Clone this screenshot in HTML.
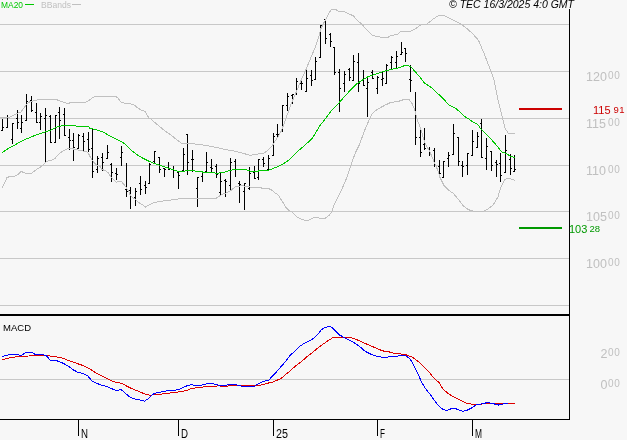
<!DOCTYPE html>
<html><head><meta charset="utf-8"><title>Chart</title>
<style>
html,body{margin:0;padding:0;background:#f7f7f7;}
body{width:627px;height:440px;overflow:hidden;}
svg{display:block;}
text{font-family:"Liberation Sans",sans-serif;}
svg{will-change:transform;}
</style></head><body>
<svg width="627" height="440" viewBox="0 0 627 440">
<rect width="627" height="440" fill="#f7f7f7"/>

<rect x="0" y="24" width="569" height="1" fill="#c8c8c8"/>
<rect x="0" y="71" width="569" height="1" fill="#c8c8c8"/>
<rect x="0" y="118" width="569" height="1" fill="#c8c8c8"/>
<rect x="0" y="165" width="569" height="1" fill="#c8c8c8"/>
<rect x="0" y="211" width="569" height="1" fill="#c8c8c8"/>
<rect x="0" y="258" width="569" height="1" fill="#c8c8c8"/>
<rect x="0" y="305" width="569" height="1" fill="#c8c8c8"/>
<rect x="0" y="379" width="569" height="1" fill="#c8c8c8"/>
<g fill="#000"><rect x="2" y="119" width="1" height="12"/><rect x="1" y="130" width="1" height="1"/><rect x="3" y="127" width="1" height="1"/><rect x="7" y="115" width="1" height="13"/><rect x="6" y="127" width="1" height="1"/><rect x="8" y="117" width="1" height="1"/><rect x="12" y="123" width="1" height="21"/><rect x="11" y="139" width="1" height="1"/><rect x="13" y="123" width="1" height="1"/><rect x="17" y="110" width="1" height="19"/><rect x="16" y="118" width="1" height="1"/><rect x="18" y="122" width="1" height="1"/><rect x="21" y="115" width="1" height="18"/><rect x="20" y="128" width="1" height="1"/><rect x="22" y="122" width="1" height="1"/><rect x="26" y="94" width="1" height="27"/><rect x="25" y="120" width="1" height="1"/><rect x="27" y="101" width="1" height="1"/><rect x="31" y="96" width="1" height="16"/><rect x="30" y="100" width="1" height="1"/><rect x="32" y="110" width="1" height="1"/><rect x="36" y="103" width="1" height="20"/><rect x="35" y="112" width="1" height="1"/><rect x="37" y="122" width="1" height="1"/><rect x="40" y="113" width="1" height="17"/><rect x="39" y="122" width="1" height="1"/><rect x="41" y="116" width="1" height="1"/><rect x="45" y="108" width="1" height="55"/><rect x="44" y="118" width="1" height="1"/><rect x="46" y="115" width="1" height="1"/><rect x="50" y="115" width="1" height="28"/><rect x="49" y="116" width="1" height="1"/><rect x="51" y="142" width="1" height="1"/><rect x="55" y="115" width="1" height="28"/><rect x="54" y="142" width="1" height="1"/><rect x="56" y="115" width="1" height="1"/><rect x="59" y="107" width="1" height="32"/><rect x="58" y="112" width="1" height="1"/><rect x="60" y="120" width="1" height="1"/><rect x="64" y="108" width="1" height="28"/><rect x="63" y="114" width="1" height="1"/><rect x="65" y="135" width="1" height="1"/><rect x="69" y="129" width="1" height="21"/><rect x="68" y="137" width="1" height="1"/><rect x="70" y="140" width="1" height="1"/><rect x="73" y="133" width="1" height="28"/><rect x="72" y="140" width="1" height="1"/><rect x="74" y="147" width="1" height="1"/><rect x="78" y="134" width="1" height="15"/><rect x="77" y="148" width="1" height="1"/><rect x="79" y="135" width="1" height="1"/><rect x="83" y="133" width="1" height="18"/><rect x="82" y="136" width="1" height="1"/><rect x="84" y="141" width="1" height="1"/><rect x="88" y="132" width="1" height="20"/><rect x="87" y="139" width="1" height="1"/><rect x="89" y="149" width="1" height="1"/><rect x="92" y="129" width="1" height="49"/><rect x="91" y="148" width="1" height="1"/><rect x="93" y="171" width="1" height="1"/><rect x="97" y="156" width="1" height="17"/><rect x="96" y="169" width="1" height="1"/><rect x="98" y="158" width="1" height="1"/><rect x="102" y="153" width="1" height="18"/><rect x="101" y="157" width="1" height="1"/><rect x="103" y="162" width="1" height="1"/><rect x="107" y="145" width="1" height="14"/><rect x="106" y="158" width="1" height="1"/><rect x="108" y="152" width="1" height="1"/><rect x="111" y="163" width="1" height="19"/><rect x="110" y="164" width="1" height="1"/><rect x="112" y="172" width="1" height="1"/><rect x="116" y="168" width="1" height="12"/><rect x="115" y="173" width="1" height="1"/><rect x="117" y="174" width="1" height="1"/><rect x="121" y="146" width="1" height="20"/><rect x="120" y="157" width="1" height="1"/><rect x="122" y="152" width="1" height="1"/><rect x="126" y="163" width="1" height="34"/><rect x="125" y="189" width="1" height="1"/><rect x="127" y="191" width="1" height="1"/><rect x="130" y="187" width="1" height="22"/><rect x="129" y="190" width="1" height="1"/><rect x="131" y="196" width="1" height="1"/><rect x="135" y="188" width="1" height="18"/><rect x="134" y="197" width="1" height="1"/><rect x="136" y="191" width="1" height="1"/><rect x="140" y="176" width="1" height="19"/><rect x="139" y="183" width="1" height="1"/><rect x="141" y="189" width="1" height="1"/><rect x="145" y="181" width="1" height="13"/><rect x="144" y="185" width="1" height="1"/><rect x="146" y="187" width="1" height="1"/><rect x="149" y="163" width="1" height="21"/><rect x="148" y="183" width="1" height="1"/><rect x="150" y="164" width="1" height="1"/><rect x="154" y="151" width="1" height="12"/><rect x="153" y="161" width="1" height="1"/><rect x="155" y="151" width="1" height="1"/><rect x="159" y="157" width="1" height="16"/><rect x="158" y="157" width="1" height="1"/><rect x="160" y="169" width="1" height="1"/><rect x="164" y="168" width="1" height="9"/><rect x="163" y="168" width="1" height="1"/><rect x="165" y="169" width="1" height="1"/><rect x="168" y="162" width="1" height="8"/><rect x="167" y="167" width="1" height="1"/><rect x="169" y="169" width="1" height="1"/><rect x="173" y="166" width="1" height="12"/><rect x="172" y="169" width="1" height="1"/><rect x="174" y="170" width="1" height="1"/><rect x="178" y="171" width="1" height="18"/><rect x="177" y="172" width="1" height="1"/><rect x="179" y="175" width="1" height="1"/><rect x="183" y="148" width="1" height="24"/><rect x="182" y="170" width="1" height="1"/><rect x="184" y="154" width="1" height="1"/><rect x="187" y="134" width="1" height="41"/><rect x="186" y="134" width="1" height="1"/><rect x="188" y="162" width="1" height="1"/><rect x="192" y="150" width="1" height="22"/><rect x="191" y="159" width="1" height="1"/><rect x="193" y="159" width="1" height="1"/><rect x="197" y="177" width="1" height="30"/><rect x="196" y="188" width="1" height="1"/><rect x="198" y="177" width="1" height="1"/><rect x="202" y="171" width="1" height="11"/><rect x="201" y="176" width="1" height="1"/><rect x="203" y="172" width="1" height="1"/><rect x="206" y="152" width="1" height="20"/><rect x="205" y="171" width="1" height="1"/><rect x="207" y="162" width="1" height="1"/><rect x="211" y="159" width="1" height="13"/><rect x="210" y="167" width="1" height="1"/><rect x="212" y="168" width="1" height="1"/><rect x="216" y="164" width="1" height="14"/><rect x="215" y="166" width="1" height="1"/><rect x="217" y="174" width="1" height="1"/><rect x="220" y="172" width="1" height="24"/><rect x="219" y="192" width="1" height="1"/><rect x="221" y="181" width="1" height="1"/><rect x="225" y="179" width="1" height="18"/><rect x="224" y="180" width="1" height="1"/><rect x="226" y="181" width="1" height="1"/><rect x="230" y="158" width="1" height="32"/><rect x="229" y="185" width="1" height="1"/><rect x="231" y="162" width="1" height="1"/><rect x="235" y="159" width="1" height="18"/><rect x="234" y="161" width="1" height="1"/><rect x="236" y="169" width="1" height="1"/><rect x="239" y="181" width="1" height="22"/><rect x="238" y="183" width="1" height="1"/><rect x="240" y="184" width="1" height="1"/><rect x="244" y="183" width="1" height="27"/><rect x="243" y="191" width="1" height="1"/><rect x="245" y="183" width="1" height="1"/><rect x="249" y="167" width="1" height="23"/><rect x="248" y="188" width="1" height="1"/><rect x="250" y="173" width="1" height="1"/><rect x="254" y="166" width="1" height="13"/><rect x="253" y="172" width="1" height="1"/><rect x="255" y="178" width="1" height="1"/><rect x="258" y="159" width="1" height="21"/><rect x="257" y="177" width="1" height="1"/><rect x="259" y="159" width="1" height="1"/><rect x="263" y="157" width="1" height="10"/><rect x="262" y="159" width="1" height="1"/><rect x="264" y="163" width="1" height="1"/><rect x="268" y="155" width="1" height="15"/><rect x="267" y="169" width="1" height="1"/><rect x="269" y="158" width="1" height="1"/><rect x="273" y="133" width="1" height="23"/><rect x="272" y="155" width="1" height="1"/><rect x="274" y="136" width="1" height="1"/><rect x="277" y="124" width="1" height="14"/><rect x="276" y="134" width="1" height="1"/><rect x="278" y="134" width="1" height="1"/><rect x="282" y="105" width="1" height="27"/><rect x="281" y="131" width="1" height="1"/><rect x="283" y="105" width="1" height="1"/><rect x="287" y="93" width="1" height="18"/><rect x="286" y="105" width="1" height="1"/><rect x="288" y="96" width="1" height="1"/><rect x="292" y="94" width="1" height="10"/><rect x="291" y="95" width="1" height="1"/><rect x="293" y="94" width="1" height="1"/><rect x="296" y="78" width="1" height="17"/><rect x="295" y="94" width="1" height="1"/><rect x="297" y="81" width="1" height="1"/><rect x="301" y="79" width="1" height="11"/><rect x="300" y="83" width="1" height="1"/><rect x="302" y="83" width="1" height="1"/><rect x="306" y="69" width="1" height="23"/><rect x="305" y="91" width="1" height="1"/><rect x="307" y="78" width="1" height="1"/><rect x="311" y="70" width="1" height="16"/><rect x="310" y="75" width="1" height="1"/><rect x="312" y="80" width="1" height="1"/><rect x="315" y="57" width="1" height="23"/><rect x="314" y="79" width="1" height="1"/><rect x="316" y="61" width="1" height="1"/><rect x="320" y="25" width="1" height="33"/><rect x="319" y="57" width="1" height="1"/><rect x="321" y="25" width="1" height="1"/><rect x="325" y="19" width="1" height="25"/><rect x="324" y="19" width="1" height="1"/><rect x="326" y="38" width="1" height="1"/><rect x="330" y="33" width="1" height="14"/><rect x="329" y="34" width="1" height="1"/><rect x="331" y="41" width="1" height="1"/><rect x="334" y="47" width="1" height="28"/><rect x="333" y="47" width="1" height="1"/><rect x="335" y="72" width="1" height="1"/><rect x="339" y="69" width="1" height="43"/><rect x="338" y="72" width="1" height="1"/><rect x="340" y="88" width="1" height="1"/><rect x="344" y="71" width="1" height="21"/><rect x="343" y="83" width="1" height="1"/><rect x="345" y="74" width="1" height="1"/><rect x="349" y="68" width="1" height="13"/><rect x="348" y="69" width="1" height="1"/><rect x="350" y="77" width="1" height="1"/><rect x="353" y="55" width="1" height="26"/><rect x="352" y="80" width="1" height="1"/><rect x="354" y="61" width="1" height="1"/><rect x="358" y="53" width="1" height="39"/><rect x="357" y="62" width="1" height="1"/><rect x="359" y="83" width="1" height="1"/><rect x="363" y="70" width="1" height="16"/><rect x="362" y="80" width="1" height="1"/><rect x="364" y="85" width="1" height="1"/><rect x="367" y="76" width="1" height="41"/><rect x="366" y="88" width="1" height="1"/><rect x="368" y="82" width="1" height="1"/><rect x="372" y="70" width="1" height="9"/><rect x="371" y="72" width="1" height="1"/><rect x="373" y="78" width="1" height="1"/><rect x="377" y="76" width="1" height="18"/><rect x="376" y="88" width="1" height="1"/><rect x="378" y="77" width="1" height="1"/><rect x="382" y="71" width="1" height="15"/><rect x="381" y="79" width="1" height="1"/><rect x="383" y="78" width="1" height="1"/><rect x="386" y="64" width="1" height="20"/><rect x="385" y="83" width="1" height="1"/><rect x="387" y="65" width="1" height="1"/><rect x="391" y="56" width="1" height="14"/><rect x="390" y="62" width="1" height="1"/><rect x="392" y="57" width="1" height="1"/><rect x="396" y="51" width="1" height="18"/><rect x="395" y="62" width="1" height="1"/><rect x="397" y="56" width="1" height="1"/><rect x="401" y="42" width="1" height="13"/><rect x="400" y="54" width="1" height="1"/><rect x="402" y="52" width="1" height="1"/><rect x="405" y="48" width="1" height="14"/><rect x="404" y="48" width="1" height="1"/><rect x="406" y="53" width="1" height="1"/><rect x="410" y="65" width="1" height="27"/><rect x="409" y="79" width="1" height="1"/><rect x="411" y="80" width="1" height="1"/><rect x="415" y="92" width="1" height="53"/><rect x="414" y="108" width="1" height="1"/><rect x="416" y="137" width="1" height="1"/><rect x="420" y="127" width="1" height="30"/><rect x="419" y="137" width="1" height="1"/><rect x="421" y="152" width="1" height="1"/><rect x="424" y="128" width="1" height="22"/><rect x="423" y="144" width="1" height="1"/><rect x="425" y="148" width="1" height="1"/><rect x="429" y="147" width="1" height="9"/><rect x="428" y="149" width="1" height="1"/><rect x="430" y="152" width="1" height="1"/><rect x="434" y="148" width="1" height="19"/><rect x="433" y="150" width="1" height="1"/><rect x="435" y="164" width="1" height="1"/><rect x="439" y="160" width="1" height="14"/><rect x="438" y="166" width="1" height="1"/><rect x="440" y="173" width="1" height="1"/><rect x="443" y="161" width="1" height="17"/><rect x="442" y="177" width="1" height="1"/><rect x="444" y="161" width="1" height="1"/><rect x="448" y="152" width="1" height="15"/><rect x="447" y="158" width="1" height="1"/><rect x="449" y="155" width="1" height="1"/><rect x="453" y="124" width="1" height="31"/><rect x="452" y="154" width="1" height="1"/><rect x="454" y="133" width="1" height="1"/><rect x="458" y="137" width="1" height="29"/><rect x="457" y="137" width="1" height="1"/><rect x="459" y="161" width="1" height="1"/><rect x="462" y="161" width="1" height="16"/><rect x="461" y="165" width="1" height="1"/><rect x="463" y="166" width="1" height="1"/><rect x="467" y="153" width="1" height="22"/><rect x="466" y="165" width="1" height="1"/><rect x="468" y="153" width="1" height="1"/><rect x="472" y="130" width="1" height="26"/><rect x="471" y="155" width="1" height="1"/><rect x="473" y="141" width="1" height="1"/><rect x="477" y="132" width="1" height="16"/><rect x="476" y="147" width="1" height="1"/><rect x="478" y="136" width="1" height="1"/><rect x="481" y="119" width="1" height="39"/><rect x="480" y="123" width="1" height="1"/><rect x="482" y="157" width="1" height="1"/><rect x="486" y="138" width="1" height="32"/><rect x="485" y="158" width="1" height="1"/><rect x="487" y="146" width="1" height="1"/><rect x="491" y="151" width="1" height="20"/><rect x="490" y="151" width="1" height="1"/><rect x="492" y="165" width="1" height="1"/><rect x="496" y="160" width="1" height="17"/><rect x="495" y="162" width="1" height="1"/><rect x="497" y="164" width="1" height="1"/><rect x="500" y="153" width="1" height="29"/><rect x="499" y="163" width="1" height="1"/><rect x="501" y="175" width="1" height="1"/><rect x="505" y="135" width="1" height="38"/><rect x="504" y="172" width="1" height="1"/><rect x="506" y="150" width="1" height="1"/><rect x="510" y="154" width="1" height="21"/><rect x="509" y="159" width="1" height="1"/><rect x="511" y="168" width="1" height="1"/><rect x="514" y="155" width="1" height="17"/><rect x="513" y="171" width="1" height="1"/><rect x="515" y="169" width="1" height="1"/></g>
<g fill="none" stroke="#c0c0c0" stroke-width="1" shape-rendering="crispEdges"><polyline points="0.00,118.00 5.00,117.50 9.00,117.50 13.00,115.50 18.00,113.00 21.00,112.00 24.00,108.00 27.00,104.00 30.00,101.50 33.00,101.00 36.00,100.50 40.00,99.00 45.00,99.00 50.00,100.00 54.00,99.00 56.00,99.50 59.00,100.50 64.00,102.50 68.00,103.50 71.00,102.50 85.00,102.50 89.00,100.50 93.00,97.50 95.00,96.50 116.00,96.50 118.00,98.00 121.00,102.00 124.00,103.00 130.00,103.50 134.00,105.00 138.00,108.00 141.00,110.00 145.00,111.50 146.00,113.00 148.00,116.50 149.00,118.50 150.00,118.40 153.80,121.70 159.60,126.50 165.30,131.30 171.00,135.00 176.80,139.90 181.60,143.30 186.40,143.70 192.10,143.30 197.80,144.70 205.50,145.20 211.20,146.60 218.90,147.90 226.60,149.80 234.20,151.00 241.90,152.90 249.50,155.20 255.30,154.80 261.00,153.30 264.00,153.20 268.50,149.80 272.50,145.20 275.40,140.70 278.80,135.50 281.60,130.40 283.90,124.20 286.20,117.40 288.40,111.70 290.90,104.20 293.20,99.20 295.50,93.70 297.30,89.60 299.50,84.20 301.80,78.70 306.20,69.00 310.70,58.00 315.30,47.30 318.90,36.40 320.70,29.00 324.40,21.80 327.00,17.00 329.00,13.00 331.00,10.00 334.00,9.00 336.00,9.50 338.00,11.00 340.00,11.00 344.00,11.00 346.00,12.50 350.00,14.50 353.00,15.50 357.00,20.00 362.00,24.50 367.00,30.00 372.00,35.00 375.00,36.00 380.00,37.00 388.00,37.50 390.00,36.00 394.00,35.00 398.00,34.00 400.00,31.80 409.60,31.80 415.30,28.90 420.10,25.10 426.80,24.10 431.60,20.30 437.30,16.10 441.10,15.00 445.00,16.10 451.70,19.40 459.30,23.20 465.10,27.00 472.70,33.70 478.50,40.40 484.20,53.80 489.00,66.20 491.90,73.90 494.00,80.00 497.50,97.50 500.50,110.00 503.00,120.00 505.00,128.00 508.00,133.00 515.00,133.50"/><polyline points="2.00,188.00 5.00,182.00 7.00,177.50 10.00,176.50 15.00,176.00 18.00,174.50 21.00,171.50 24.00,172.50 26.00,173.50 31.00,173.50 34.00,171.50 38.00,168.50 42.00,166.00 44.00,164.00 46.00,162.00 48.00,161.00 52.00,160.00 55.00,158.50 58.00,155.00 60.00,153.00 65.00,150.00 69.00,148.00 78.00,150.00 84.00,151.30 87.30,152.10 88.90,154.20 90.50,157.50 92.20,160.30 94.60,163.20 97.10,165.20 100.40,166.90 102.00,169.50 105.00,170.50 108.00,172.50 110.00,175.50 112.00,178.00 114.50,180.60 116.50,182.20 119.00,181.60 121.60,181.60 122.80,183.10 124.70,185.40 126.60,188.20 128.60,191.10 130.50,195.60 133.10,198.10 135.00,199.00 137.60,201.60 140.70,203.80 143.30,205.40 145.50,207.00 147.70,205.70 150.30,204.50 153.80,202.60 162.80,201.00 173.00,199.80 181.90,198.40 197.20,198.80 207.40,198.50 216.30,198.10 221.40,194.90 230.00,191.10 235.80,186.40 242.60,185.70 249.50,187.00 259.70,187.40 262.00,188.20 268.50,188.20 270.20,189.40 272.60,190.60 275.10,193.10 277.10,193.90 279.20,196.40 280.80,199.20 283.30,202.90 286.00,207.50 288.90,210.60 292.30,212.10 294.60,214.60 297.50,217.20 299.80,218.40 302.10,219.40 304.90,220.40 308.40,220.40 310.10,219.50 312.40,218.50 314.70,217.20 317.30,217.20 319.30,218.40 322.00,218.40 325.30,218.30 327.40,216.70 329.80,214.60 331.90,211.40 333.10,207.70 334.70,203.60 336.80,199.50 338.80,195.40 340.90,190.90 343.30,186.00 347.30,176.40 350.20,167.60 352.40,160.40 356.00,151.60 359.60,144.40 361.40,139.20 364.80,130.10 368.20,122.10 370.50,117.00 372.70,113.00 376.10,110.20 380.70,107.40 385.20,105.10 390.00,102.80 395.00,101.80 399.50,101.00 405.00,99.20 409.50,100.00 412.50,104.30 414.80,110.30 416.80,118.50 420.00,127.00 425.00,143.00 430.00,152.00 435.00,164.00 437.50,169.50 440.00,177.50 444.00,185.50 448.70,190.30 453.50,193.50 458.00,199.00 463.00,205.50 468.00,209.50 472.60,211.00 479.00,212.00 484.00,211.00 488.60,208.60 493.40,204.70 498.00,196.70 501.00,187.00 504.50,180.00 507.00,178.30 511.00,179.00 515.00,180.40"/></g>
<polyline fill="none" stroke="#00c800" stroke-width="1" shape-rendering="crispEdges" points="2.00,152.50 6.00,150.00 10.00,147.50 15.00,145.00 20.00,142.00 24.00,140.00 30.00,137.50 36.00,135.00 40.00,133.50 45.00,132.00 50.00,130.50 55.00,128.20 58.50,126.40 62.00,125.80 67.00,125.50 75.50,125.50 76.50,126.50 88.50,126.50 90.00,128.40 94.50,129.40 98.50,130.40 101.00,131.50 104.00,132.40 110.00,136.20 115.60,138.90 121.20,141.50 124.50,143.70 127.90,147.10 132.30,151.00 137.90,155.40 143.50,158.50 149.00,161.20 154.60,163.50 160.20,165.50 165.80,167.20 171.40,169.20 177.00,171.10 180.00,171.60 185.00,171.00 190.00,170.50 195.00,171.00 200.00,171.50 205.00,172.50 210.00,172.00 215.00,173.00 218.00,173.50 220.00,172.50 225.00,172.00 230.00,170.50 235.00,169.00 243.00,169.00 245.00,169.50 250.00,171.00 255.00,171.50 260.00,170.80 269.30,170.00 273.80,168.20 278.40,166.40 282.00,164.50 286.50,161.80 290.20,159.10 293.80,155.50 296.50,152.30 299.30,150.00 304.20,145.80 312.40,138.30 319.20,126.70 326.00,117.80 332.80,109.00 336.00,106.20 340.20,101.40 345.00,96.00 350.50,90.10 356.60,84.00 362.70,79.90 367.80,76.80 372.00,75.20 377.00,73.70 382.00,72.00 387.30,70.30 392.00,69.30 397.50,68.20 403.60,66.00 407.70,65.60 410.80,66.60 413.90,70.30 419.80,77.00 424.20,82.90 428.60,85.80 433.00,88.80 439.00,94.70 444.90,100.60 449.30,105.00 455.20,108.00 460.40,112.40 464.10,116.10 470.00,119.80 473.00,122.00 477.00,124.00 479.00,126.00 480.00,128.00 482.00,130.00 485.00,133.00 490.00,138.00 495.00,143.50 498.00,147.00 500.00,150.00 502.00,152.00 505.00,153.00 508.00,154.50 510.00,156.00 513.00,157.00 515.00,157.50"/>
<g fill="none" stroke-width="1" shape-rendering="crispEdges"><polyline stroke="#dd0000" points="2.40,359.50 6.40,358.70 11.20,357.50 19.10,356.40 28.70,356.00 31.90,355.50 38.30,355.20 46.30,355.50 52.60,356.40 60.60,357.50 67.00,359.90 75.00,362.80 83.00,365.50 89.30,368.70 95.70,372.70 100.00,375.00 104.80,377.50 111.20,380.70 116.00,382.30 122.30,383.50 127.10,386.30 133.50,389.40 139.90,391.80 146.30,394.70 151.00,395.30 154.20,394.20 160.60,394.20 170.20,393.00 179.70,391.80 186.10,390.70 191.70,388.30 200.00,387.60 204.80,386.60 212.80,386.30 219.10,385.90 223.90,386.60 227.10,386.30 230.30,385.50 241.50,385.80 254.20,385.80 260.60,385.10 267.00,383.40 273.40,381.80 281.30,378.30 285.00,375.00 288.90,372.00 294.80,366.60 299.10,363.30 304.00,359.40 308.10,355.70 313.20,351.90 317.50,348.30 322.10,344.90 328.50,340.40 333.60,337.20 348.90,337.20 354.00,338.50 360.20,341.10 366.60,344.00 372.90,346.70 379.30,349.60 384.10,351.20 388.90,351.80 391.40,352.80 397.80,353.60 406.00,354.80 412.40,357.30 418.80,361.80 422.60,365.60 429.00,372.00 434.10,378.40 439.20,382.70 443.00,389.30 448.70,393.90 454.40,397.20 460.10,400.10 465.90,403.00 471.60,404.10 478.80,404.40 486.00,403.40 493.20,403.70 501.80,403.70 508.90,403.40 514.70,403.40"/><polyline stroke="#0000ff" points="2.40,356.40 6.40,355.50 10.40,354.40 18.30,354.70 20.70,355.60 26.30,352.40 31.90,352.40 35.00,354.40 42.30,354.70 46.30,355.60 50.20,360.30 55.80,360.40 62.20,362.80 68.60,366.30 72.60,369.50 78.10,372.40 82.90,373.50 87.70,375.90 91.70,380.70 95.70,382.70 100.00,384.70 106.40,386.30 112.80,389.10 116.70,391.00 120.70,389.40 124.70,392.60 128.70,396.10 133.50,398.70 138.30,399.80 142.30,400.30 144.70,401.10 147.80,399.00 151.00,396.10 154.20,393.40 160.60,392.20 167.00,390.70 175.00,390.20 179.70,389.10 186.90,385.80 190.90,384.70 195.70,385.50 200.00,385.50 204.80,384.30 209.60,383.40 213.60,383.90 217.50,385.00 223.90,385.50 228.70,384.70 235.90,384.70 242.30,386.30 254.20,386.30 257.40,384.30 262.20,381.80 268.60,380.20 275.00,373.50 280.00,367.80 285.10,362.10 290.00,355.50 294.00,351.90 299.10,346.80 303.00,344.20 309.30,341.00 314.40,337.90 318.30,334.00 320.80,330.20 324.60,327.70 329.70,326.10 333.60,328.90 340.00,335.30 346.30,338.50 352.70,341.70 360.00,346.80 365.00,351.20 371.30,354.40 377.70,356.60 382.50,357.20 387.30,357.10 390.00,356.50 397.80,356.00 401.00,355.50 404.90,355.20 408.90,357.90 411.30,360.70 414.50,367.10 418.50,375.10 421.70,382.30 424.90,387.80 430.00,394.30 434.30,400.10 438.60,405.80 442.90,409.40 447.20,410.50 452.20,408.30 455.80,408.70 460.10,410.50 463.00,411.30 467.30,410.10 471.60,408.00 475.90,405.10 480.20,404.10 483.80,403.70 486.70,402.50 488.80,402.70 493.20,403.70 498.90,405.10 501.80,404.40 504.60,403.40 507.50,403.40"/></g>
<rect x="0" y="314" width="570" height="2" fill="#000"/>
<rect x="569" y="9" width="1" height="411" fill="#000"/>
<rect x="0" y="419" width="570" height="1" fill="#000"/>
<rect x="78" y="419" width="1" height="17" fill="#000"/>
<rect x="178" y="419" width="1" height="17" fill="#000"/>
<rect x="273" y="419" width="1" height="17" fill="#000"/>
<rect x="377" y="419" width="1" height="17" fill="#000"/>
<rect x="472" y="419" width="1" height="17" fill="#000"/>
<rect x="519" y="108" width="43" height="2" fill="#cc0000"/>
<rect x="519" y="227" width="43" height="2" fill="#009900"/>
<text x="1" y="8" font-size="9.6" fill="#00c800" textLength="22" lengthAdjust="spacingAndGlyphs">MA20</text>
<rect x="25" y="4" width="9" height="1" fill="#00c800"/>
<text x="41" y="8" font-size="9.6" fill="#c0c0c0" textLength="30" lengthAdjust="spacingAndGlyphs">BBands</text>
<rect x="72" y="4" width="9" height="1" fill="#c0c0c0"/>
<text x="449" y="8" font-size="10" font-style="italic" fill="#000" textLength="125" lengthAdjust="spacingAndGlyphs">© TEC 16/3/2025 4:0 GMT</text>
<text x="3" y="331" font-size="9.6" fill="#000" textLength="28" lengthAdjust="spacingAndGlyphs">MACD</text>
<text x="586" y="81" font-size="12.5" fill="#c0c0c0" letter-spacing="0" >120</text>
<text x="608" y="79" font-size="10" fill="#c0c0c0" letter-spacing="0.8" >00</text>
<text x="586" y="128" font-size="12.5" fill="#c0c0c0" letter-spacing="0" >115</text>
<text x="608" y="126" font-size="10" fill="#c0c0c0" letter-spacing="0.8" >00</text>
<text x="586" y="175" font-size="12.5" fill="#c0c0c0" letter-spacing="0" >110</text>
<text x="608" y="173" font-size="10" fill="#c0c0c0" letter-spacing="0.8" >00</text>
<text x="586" y="221" font-size="12.5" fill="#c0c0c0" letter-spacing="0" >105</text>
<text x="608" y="219" font-size="10" fill="#c0c0c0" letter-spacing="0.8" >00</text>
<text x="586" y="268" font-size="12.5" fill="#c0c0c0" letter-spacing="0" >100</text>
<text x="608" y="266" font-size="10" fill="#c0c0c0" letter-spacing="0.8" >00</text>
<text x="600.5" y="358" font-size="12.5" fill="#c0c0c0" letter-spacing="0" >2</text>
<text x="608" y="356" font-size="10" fill="#c0c0c0" letter-spacing="0.8" >00</text>
<text x="600.5" y="389" font-size="12.5" fill="#c0c0c0" letter-spacing="0" >0</text>
<text x="608" y="387" font-size="10" fill="#c0c0c0" letter-spacing="0.8" >00</text>
<text x="593" y="114" font-size="11" fill="#cc0000" letter-spacing="0" >115</text>
<text x="613.5" y="113" font-size="9.5" fill="#cc0000" letter-spacing="0.4" >91</text>
<text x="569" y="233" font-size="11" fill="#009900" letter-spacing="0" >103</text>
<text x="589.5" y="232" font-size="9.5" fill="#009900" letter-spacing="0" >28</text>
<text x="81" y="438" font-size="12" fill="#000" textLength="7" lengthAdjust="spacingAndGlyphs">N</text>
<text x="181" y="438" font-size="12" fill="#000" textLength="7" lengthAdjust="spacingAndGlyphs">D</text>
<text x="276" y="438" font-size="12" fill="#000" textLength="12" lengthAdjust="spacingAndGlyphs">25</text>
<text x="380" y="438" font-size="12" fill="#000" textLength="5" lengthAdjust="spacingAndGlyphs">F</text>
<text x="475" y="438" font-size="12" fill="#000" textLength="7" lengthAdjust="spacingAndGlyphs">M</text>
</svg></body></html>
